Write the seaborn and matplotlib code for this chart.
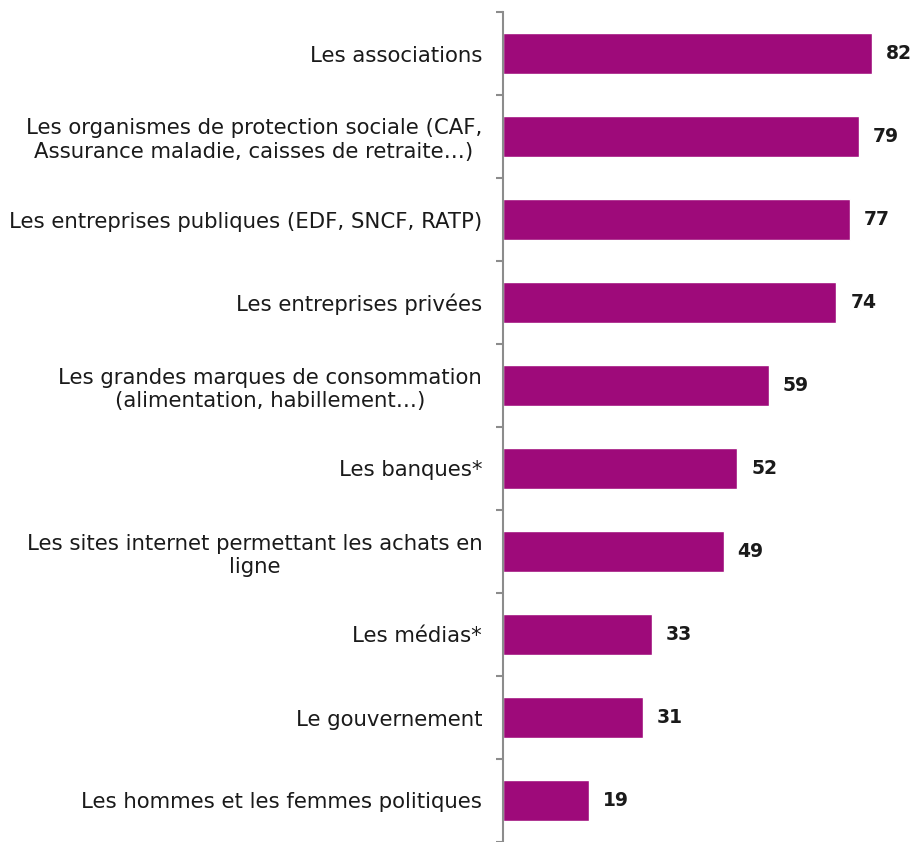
import matplotlib
matplotlib.use("Agg")
import matplotlib.pyplot as plt
import seaborn as sns
import pandas as pd
import numpy as np

categories = [
    "Les associations",
    "Les organismes de protection sociale (CAF,\nAssurance maladie, caisses de retraite…)",
    "Les entreprises publiques (EDF, SNCF, RATP)",
    "Les entreprises privées",
    "Les grandes marques de consommation\n(alimentation, habillement…)",
    "Les banques*",
    "Les sites internet permettant les achats en\nligne",
    "Les médias*",
    "Le gouvernement",
    "Les hommes et les femmes politiques",
]
values = [82, 79, 77, 74, 59, 52, 49, 33, 31, 19]

df = pd.DataFrame({"cat": categories, "val": values})

sns.set_style("white")
plt.rcParams["font.family"] = ["DejaVu Sans"]

fig = plt.figure(figsize=(9.13, 8.42), dpi=100)
ax = fig.add_axes([503 / 913, 0.0, 1 - 503 / 913, 1 - 12 / 842])

sns.barplot(data=df, x="val", y="cat", orient="h", color="#9E0A7A",
            saturation=1, width=0.49, ax=ax)

ax.set_xlim(0, 91)
ax.set_ylim(9.5, -0.5)
ax.set_xlabel("")
ax.set_ylabel("")
ax.set_xticks([])

for s in ["top", "right", "bottom"]:
    ax.spines[s].set_visible(False)
ax.spines["left"].set_color("#8c8c8c")
ax.spines["left"].set_linewidth(1.5)

ax.set_yticks(range(len(categories)))
ax.set_yticklabels(categories, fontsize=15.3, color="#1a1a1a", multialignment="center")
ax.tick_params(axis="y", which="major", left=False, length=0, pad=15)
ax.set_yticks(np.arange(-0.5, len(categories), 1.0), minor=True)
ax.tick_params(axis="y", which="minor", left=True, length=5, width=1.5,
               color="#8c8c8c", direction="out")

for i, v in enumerate(values):
    ax.annotate(str(v), xy=(v, i), xytext=(10, 0), textcoords="offset points",
                va="center", ha="left", fontsize=13.5, fontweight="bold", color="#1a1a1a")

fig.savefig("out.png", dpi=100)
